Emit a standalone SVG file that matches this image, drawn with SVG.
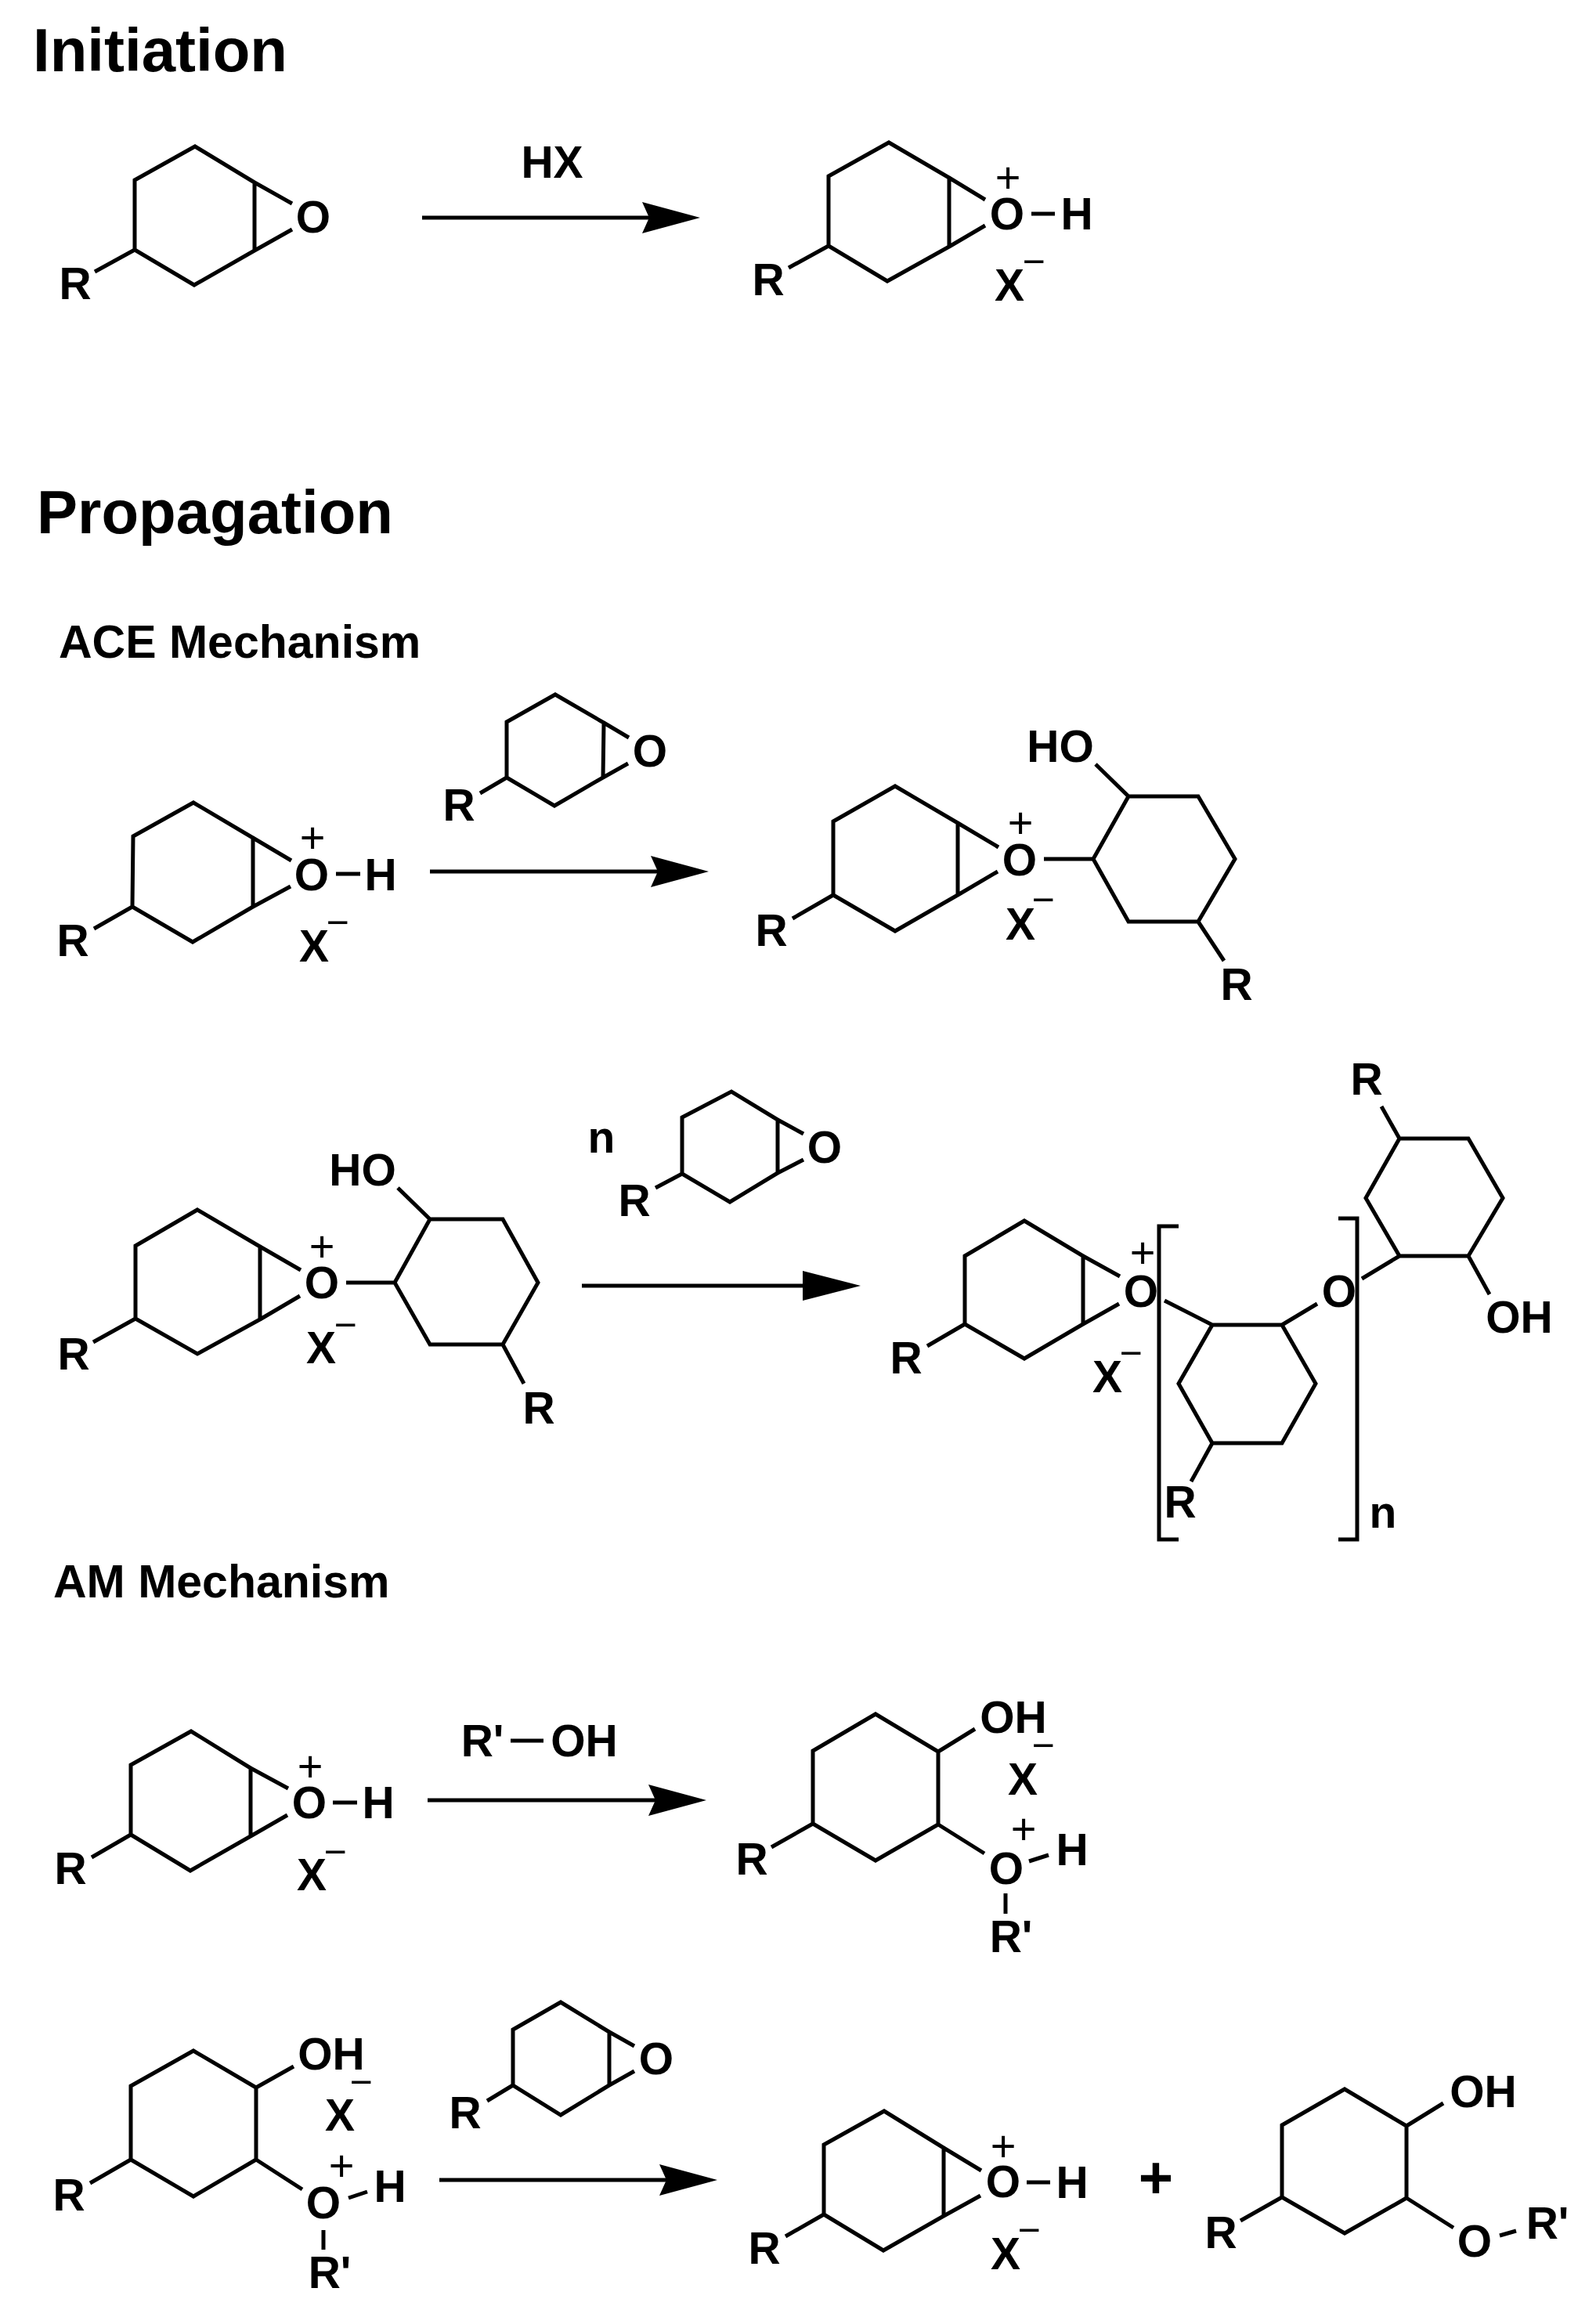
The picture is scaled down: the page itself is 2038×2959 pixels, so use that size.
<svg xmlns="http://www.w3.org/2000/svg" width="2038" height="2959" viewBox="0 0 2038 2959">
<style>
text{font-family:"Liberation Sans",Arial,sans-serif;fill:#000}
.h1{font-size:78px;font-weight:700}
.h2{font-size:59px;font-weight:700}
.a{font-size:57px;font-weight:700;text-anchor:middle}
.p{font-size:56px;text-anchor:middle}
.m{font-size:50px;text-anchor:middle}
.big{font-size:76px;font-weight:700;text-anchor:middle}
.b{fill:none;stroke:#000;stroke-width:5;stroke-linejoin:miter}
.ar{fill:none;stroke:#000;stroke-width:5}
</style>
<defs>
<marker id="head" markerUnits="userSpaceOnUse" markerWidth="76" markerHeight="42" refX="9" refY="21" orient="auto"><path d="M0 1L74 21L0 41L9 21Z" fill="#000"/></marker>
<marker id="headflat" markerUnits="userSpaceOnUse" markerWidth="76" markerHeight="42" refX="1" refY="21" orient="auto"><path d="M0 2L74 21L0 40Z" fill="#000"/></marker>
</defs>
<rect width="2038" height="2959" fill="#fff"/>

<g id="headings">
<text class="h1" x="42" y="91">Initiation</text>
<text class="h1" x="47" y="681">Propagation</text>
<text class="h2" x="75" y="840">ACE Mechanism</text>
<text class="h2" x="68" y="2040">AM Mechanism</text>
</g>

<g id="connectors">
<path class="ar" d="M539 278H829" marker-end="url(#head)"/>
<path class="ar" d="M549 1113H840" marker-end="url(#head)"/>
<path class="ar" d="M743 1642H1026" marker-end="url(#headflat)"/>
<path class="ar" d="M546 2299H837" marker-end="url(#head)"/>
<path class="ar" d="M561 2784H851" marker-end="url(#head)"/>
</g>

<g id="label-hx"><text class="a" x="705" y="227">HX</text></g>

<g id="init-reactant">
<path class="b" d="M172 230L249 187L325 233V320L248 364L172 319ZM325 233L373 260M325 320L373 293M172 319L121 347"/>
<text class="a" x="400" y="297">O</text><text class="a" x="96" y="382">R</text>
</g>

<g id="init-product">
<path class="b" d="M1058 225L1135 182L1212 227V315L1133 359L1058 314ZM1212 227L1258 255M1212 315L1258 288M1058 314L1007 342M1317 273H1347"/>
<text class="a" x="1286" y="293">O</text><text class="a" x="1375" y="293">H</text><text class="a" x="981" y="377">R</text><text class="a" x="1289" y="384">X</text>
<text class="p" x="1287" y="246">+</text><text class="m" x="1320" y="351">−</text>
</g>

<g id="ace1-reactant">
<path class="b" d="M170 1068L247 1025L323 1070V1158L246 1203L169 1158ZM323 1070L372 1099M323 1158L371 1132M169 1158L120 1186M429 1116H460"/>
<text class="a" x="398" y="1137">O</text><text class="a" x="486" y="1137">H</text><text class="a" x="93" y="1221">R</text><text class="a" x="401" y="1228">X</text>
<text class="p" x="399" y="1089">+</text><text class="m" x="431" y="1195">−</text>
</g>

<g id="ace1-reagent">
<path class="b" d="M647 922L709 887L771 923L770 993L708 1029L647 993ZM771 923L803 942M770 993L802 975M647 993L613 1013"/>
<text class="a" x="830" y="979">O</text><text class="a" x="586" y="1048">R</text>
</g>

<g id="ace1-product">
<path class="b" d="M1064 1049L1143 1004L1223 1051V1143L1143 1189L1064 1143ZM1223 1051L1275 1082M1223 1143L1274 1113M1064 1143L1012 1173M1333 1097H1396M1396 1097L1441 1017H1530L1577 1097L1530 1177H1441ZM1441 1017L1399 976M1530 1177L1563 1227"/>
<text class="a" x="1302" y="1118">O</text><text class="a" x="1354" y="973">HO</text><text class="a" x="1303" y="1200">X</text><text class="a" x="985" y="1208">R</text><text class="a" x="1579" y="1277">R</text>
<text class="p" x="1303" y="1070">+</text><text class="m" x="1332" y="1166">−</text>
</g>

<g id="ace2-reactant">
<path class="b" d="M173 1591L252 1545L332 1592V1685L252 1729L173 1684ZM332 1592L384 1622M332 1685L383 1655M173 1684L119 1714M442 1638H504M504 1638L549 1557H642L687 1638L642 1717H549ZM549 1557L508 1517M642 1717L669 1767"/>
<text class="a" x="411" y="1658">O</text><text class="a" x="463" y="1514">HO</text><text class="a" x="410" y="1741">X</text><text class="a" x="94" y="1749">R</text><text class="a" x="688" y="1818">R</text>
<text class="p" x="411" y="1611">+</text><text class="m" x="441" y="1709">−</text>
</g>

<g id="ace2-reagent">
<text class="a" x="768" y="1472">n</text>
<path class="b" d="M871 1427L934 1394L993 1430V1498L932 1535L871 1499ZM993 1430L1026 1448M993 1498L1026 1481M871 1499L837 1517"/>
<text class="a" x="1053" y="1485">O</text><text class="a" x="810" y="1553">R</text>
</g>

<g id="ace2-product">
<path class="b" d="M1232 1604L1308 1559L1383 1604V1691L1308 1735L1232 1691ZM1383 1604L1430 1630M1383 1691L1429 1665M1232 1691L1184 1719"/>
<text class="a" x="1457" y="1669">O</text><text class="a" x="1414" y="1778">X</text><text class="a" x="1157" y="1754">R</text>
<text class="p" x="1459" y="1619">+</text><text class="m" x="1444" y="1745">−</text>
<path class="b" d="M1505 1566H1480V1966H1505M1709 1556H1733V1966H1709"/>
<path class="b" d="M1487 1661L1548 1692H1637L1680 1767L1637 1843H1548L1505 1767L1548 1692M1637 1692L1682 1665M1548 1843L1521 1892"/>
<text class="a" x="1710" y="1669">O</text><text class="a" x="1507" y="1938">R</text><text class="a" x="1766" y="1951">n</text>
<path class="b" d="M1739 1633L1787 1604H1875L1919 1530L1875 1454H1787L1744 1530L1787 1604M1787 1454L1764 1413M1875 1604L1902 1653"/>
<text class="a" x="1745" y="1398">R</text><text class="a" x="1940" y="1702">OH</text>
</g>

<g id="am1-reactant">
<path class="b" d="M167 2254L244 2211L320 2258V2345L243 2389L167 2343ZM320 2258L368 2284M320 2345L367 2318M167 2343L117 2372M425 2302H456"/>
<text class="a" x="395" y="2322">O</text><text class="a" x="483" y="2322">H</text><text class="a" x="90" y="2406">R</text><text class="a" x="398" y="2414">X</text>
<text class="p" x="396" y="2275">+</text><text class="m" x="428" y="2382">−</text>
</g>

<g id="am1-reagent">
<text class="a" x="616" y="2243">R'</text><path class="b" d="M652 2223H694"/><text class="a" x="746" y="2243">OH</text>
</g>

<g id="am1-product">
<path class="b" d="M1038 2236L1118 2189L1198 2237V2330L1118 2376L1038 2329ZM1198 2237L1245 2208M1038 2329L985 2359M1198 2330L1257 2367M1314 2377L1339 2369M1284 2418V2444"/>
<text class="a" x="1294" y="2213">OH</text><text class="a" x="1306" y="2292">X</text><text class="a" x="960" y="2394">R</text><text class="a" x="1285" y="2406">O</text><text class="a" x="1369" y="2382">H</text><text class="a" x="1291" y="2493">R'</text>
<text class="p" x="1307" y="2355">+</text><text class="m" x="1332" y="2246">−</text>
</g>

<g id="am2-reactant">
<path class="b" d="M167 2664L247 2619L327 2666V2758L247 2805L167 2758ZM327 2666L375 2639M167 2758L115 2788M327 2758L386 2796M445 2807L469 2799M413 2848V2873"/>
<text class="a" x="423" y="2643">OH</text><text class="a" x="434" y="2721">X</text><text class="a" x="88" y="2823">R</text><text class="a" x="413" y="2833">O</text><text class="a" x="498" y="2812">H</text><text class="a" x="421" y="2922">R'</text>
<text class="p" x="436" y="2785">+</text><text class="m" x="461" y="2676">−</text>
</g>

<g id="am2-reagent">
<path class="b" d="M655 2592L716 2557L778 2595V2663L716 2701L655 2663ZM778 2595L810 2613M778 2663L810 2645M655 2663L622 2683"/>
<text class="a" x="838" y="2649">O</text><text class="a" x="594" y="2718">R</text>
</g>

<g id="am2-product-a">
<path class="b" d="M1052 2739L1129 2696L1205 2743V2830L1128 2874L1052 2828ZM1205 2743L1253 2772M1205 2830L1252 2804M1052 2828L1003 2856M1311 2787H1341"/>
<text class="a" x="1281" y="2806">O</text><text class="a" x="1369" y="2807">H</text><text class="a" x="1284" y="2898">X</text><text class="a" x="976" y="2891">R</text>
<text class="p" x="1281" y="2760">+</text><text class="m" x="1314" y="2865">−</text>
</g>

<g id="am2-plus"><text class="big" x="1476" y="2807">+</text></g>

<g id="am2-product-b">
<path class="b" d="M1637 2714L1717 2668L1796 2715V2807L1717 2852L1637 2806ZM1796 2715L1843 2686M1637 2806L1584 2836M1796 2807L1856 2845M1915 2855L1936 2849"/>
<text class="a" x="1894" y="2691">OH</text><text class="a" x="1559" y="2871">R</text><text class="a" x="1883" y="2882">O</text><text class="a" x="1976" y="2859">R'</text>
</g>
</svg>
